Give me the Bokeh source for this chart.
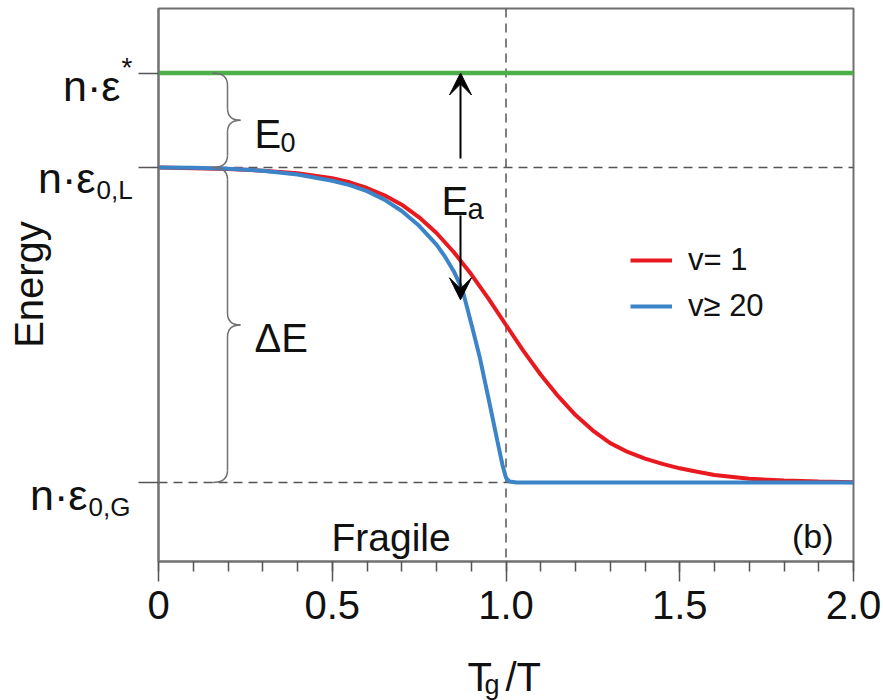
import numpy as np
from bokeh.plotting import figure
from bokeh.layouts import row, column
from bokeh.models import (Range1d, FixedTicker, Span, Label, Arrow, VeeHead,
                          Legend, LegendItem)
from bokeh.embed import file_html
from bokeh.resources import INLINE

# ---- data -------------------------------------------------------------
# energy levels (units of the glass-to-liquid gap)
level_star = 1.3      # n·ε*
level_liquid = 1.0    # n·ε0,L
level_glass = 0.0     # n·ε0,G
ea_low = 0.58         # lower end of the E_a arrow

# v = 1 curve
tgt_v1 = [0.0, 0.1, 0.2, 0.3, 0.4, 0.5, 0.55, 0.6, 0.65, 0.7, 0.75, 0.8,
          0.85, 0.9, 0.95, 1.0, 1.05, 1.1, 1.15, 1.2, 1.25, 1.3, 1.35, 1.4,
          1.45, 1.5, 1.55, 1.6, 1.7, 1.8, 1.9, 2.0]
energy_v1 = [1.0, 0.998, 0.995, 0.99, 0.982, 0.966, 0.953, 0.935, 0.912,
             0.882, 0.842, 0.792, 0.731, 0.661, 0.583, 0.50, 0.418, 0.342,
             0.274, 0.214, 0.165, 0.125, 0.097, 0.076, 0.059, 0.045, 0.034,
             0.024, 0.012, 0.006, 0.003, 0.001]

# v >= 20 curve
tgt_v20 = [0.0, 0.1, 0.2, 0.3, 0.4, 0.5, 0.55, 0.6, 0.65, 0.7, 0.75, 0.8,
           0.825, 0.85, 0.875, 0.9, 0.925, 0.95, 0.975, 0.99, 1.0, 1.01, 1.03,
           1.1, 1.5, 2.0]
energy_v20 = [1.0, 0.999, 0.996, 0.99, 0.978, 0.958, 0.944, 0.925, 0.898,
              0.862, 0.815, 0.755, 0.716, 0.670, 0.610, 0.505, 0.395, 0.265,
              0.133, 0.055, 0.015, 0.003, 0.0, 0.0, 0.0, 0.0]

x_ticks = [0.0, 0.5, 1.0, 1.5, 2.0]
x_tick_labels = ["0", "0.5", "1.0", "1.5", "2.0"]
series_labels = ["v= 1", "v≥ 20"]

# ---- styling ----------------------------------------------------------
INK = "#111111"
FRAME = "#707070"
RED = "#e8191f"
BLUE = "#3b84c8"
GREEN = "#4cb04a"
FONT = "Liberation Sans"

W, H = 883, 700
LEFT, RIGHT, TOP = 158, 30, 8
MAIN_H = 646                 # height of the row holding the chart
FRAME_BOTTOM = 561           # pixel row of the x axis
Y0, Y1 = -0.2508, 1.5048
SX = (W - LEFT - RIGHT) / 2.0                 # px per x unit
SY = (FRAME_BOTTOM - TOP) / (Y1 - Y0)         # px per y unit
TICK = 20                                     # outward major tick length


def xpx(px):
    """x position (data units) of a canvas pixel column."""
    return (px - LEFT) / SX


def ypx(py):
    """y position (data units) of a canvas pixel row."""
    return Y1 - (py - TOP) / SY


def bare(fig):
    fig.xgrid.visible = False
    fig.ygrid.visible = False
    fig.outline_line_color = None
    fig.background_fill_color = "white"
    fig.border_fill_color = "white"


def put(fig, text, x, y, size, align="left", baseline="alphabetic", angle=0.0):
    fig.add_layout(Label(x=x, y=y, text=text, text_font=FONT,
                         text_font_size=f"{size}px", text_color=INK,
                         text_align=align, text_baseline=baseline, angle=angle))


# ---- main chart -------------------------------------------------------
p = figure(width=W - LEFT + TICK, height=MAIN_H,
           x_range=Range1d(0, 2), y_range=Range1d(Y0, Y1),
           output_backend="svg", toolbar_location=None, title=None,
           min_border_left=TICK, min_border_right=RIGHT,
           min_border_top=TOP, min_border_bottom=MAIN_H - FRAME_BOTTOM)
bare(p)
p.outline_line_color = FRAME
p.outline_line_width = 2

# x axis
xa = p.xaxis[0]
xa.ticker = FixedTicker(ticks=x_ticks,
                        minor_ticks=list(np.round(np.arange(0, 2.01, 0.1), 2)))
xa.major_label_overrides = dict(zip(x_ticks, x_tick_labels))
xa.axis_line_color = FRAME
xa.axis_line_width = 2
xa.major_tick_line_color = "#555555"
xa.major_tick_line_width = 1.5
xa.minor_tick_line_color = "#555555"
xa.minor_tick_line_width = 1.5
xa.major_tick_in = 0
xa.major_tick_out = TICK
xa.minor_tick_in = 0
xa.minor_tick_out = 10
xa.major_label_text_font = FONT
xa.major_label_text_font_size = "40px"
xa.major_label_text_color = INK
xa.major_label_standoff = 9

# y axis: ticks only, the level names sit in the side strip
ya = p.yaxis[0]
ya.ticker = FixedTicker(ticks=[level_glass, level_liquid, level_star], minor_ticks=[])
ya.major_label_overrides = {level_glass: "", level_liquid: "", level_star: ""}
ya.major_label_standoff = 0
ya.axis_line_color = FRAME
ya.axis_line_width = 2
ya.major_tick_line_color = "#555555"
ya.major_tick_line_width = 1.5
ya.major_tick_in = 0
ya.major_tick_out = TICK

# dashed reference lines
for loc, dim in [(level_liquid, "width"), (level_glass, "width"), (1.0, "height")]:
    p.add_layout(Span(location=loc, dimension=dim, line_color="#555555",
                      line_width=1.5, line_dash="9 6", level="underlay"))

# curves
p.line([0, 2], [level_star, level_star], line_color=GREEN, line_width=4.5)
r_v1 = p.line(tgt_v1, energy_v1, line_color=RED, line_width=4)
r_v20 = p.line(tgt_v20, energy_v20, line_color=BLUE, line_width=4)


# curly braces
def brace(y_top, y_bot, x_end=xpx(212), x_stem=xpx(227), x_tip=xpx(240)):
    ym = (y_top + y_bot) / 2
    r = 12 / SY
    p.quadratic(x0=[x_end, x_stem, x_tip, x_stem],
                y0=[y_top, ym + r, ym, y_bot + r],
                x1=[x_stem, x_tip, x_stem, x_end],
                y1=[y_top - r, ym, ym - r, y_bot],
                cx=[x_stem] * 4, cy=[y_top, ym, ym, y_bot],
                line_color="#707070", line_width=1.5)
    p.segment(x0=[x_stem, x_stem], y0=[y_top - r, ym - r],
              x1=[x_stem, x_stem], y1=[ym + r, y_bot + r],
              line_color="#707070", line_width=1.5)


brace(level_star, level_liquid)
brace(level_liquid, level_glass)

# E_a double arrow, split around its label
xa_arrow = xpx(460)
for y_from, y_to in [(ypx(158), level_star), (ypx(215), ea_low)]:
    p.add_layout(Arrow(x_start=xa_arrow, y_start=y_from, x_end=xa_arrow, y_end=y_to,
                       start=None,
                       end=VeeHead(size=22, fill_color="black", line_color="black"),
                       line_color="black", line_width=2))

# gap labels
put(p, "E", xpx(254), ypx(133), 40)
put(p, "0", xpx(280), ypx(142), 27)
put(p, "ΔE", xpx(254), ypx(337), 40)
put(p, "E", xpx(441), ypx(200), 40)
put(p, "a", xpx(467), ypx(208), 29)

# panel texts
put(p, "Fragile", xpx(331), ypx(537), 39)
put(p, "(b)", xpx(833), ypx(535), 34, align="right")

legend = Legend(items=[LegendItem(label=series_labels[0], renderers=[r_v1]),
                       LegendItem(label=series_labels[1], renderers=[r_v20])],
                location=(472, 237), orientation="vertical")
legend.border_line_alpha = 0
legend.background_fill_alpha = 0
legend.label_text_font = FONT
legend.label_text_font_size = "31px"
legend.label_text_color = INK
legend.glyph_width = 42
legend.glyph_height = 20
legend.label_standoff = 16
legend.spacing = 10
legend.padding = 0
legend.margin = 0
p.add_layout(legend)

# ---- energy-axis names (left strip, same vertical scale) --------------
side = figure(width=LEFT - TICK, height=MAIN_H,
              x_range=Range1d(xpx(0), xpx(LEFT - TICK)), y_range=p.y_range,
              x_axis_type=None, y_axis_type=None,
              output_backend="svg", toolbar_location=None, title=None,
              min_border_left=0, min_border_right=0,
              min_border_top=TOP, min_border_bottom=MAIN_H - FRAME_BOTTOM)
bare(side)

put(side, "n·ε", xpx(120), level_star - 13 / SY, 43, align="right")
put(side, "*", xpx(121), level_star + 6 / SY, 28)
put(side, "n·ε", xpx(95), level_liquid - 10 / SY, 43, align="right")
put(side, "0,L", xpx(96), level_liquid - 22 / SY, 26)
put(side, "n·ε", xpx(87), level_glass - 12 / SY, 43, align="right")
put(side, "0,G", xpx(88), level_glass - 24 / SY, 26)
put(side, "Energy", xpx(28), ypx(284), 40, align="center", angle=np.pi / 2)

# ---- x-axis title (bottom strip, same horizontal scale) ---------------
foot = figure(width=W, height=H - MAIN_H,
              x_range=Range1d(xpx(0), xpx(W)), y_range=Range1d(H, MAIN_H),
              x_axis_type=None, y_axis_type=None,
              output_backend="svg", toolbar_location=None, title=None,
              min_border_left=0, min_border_right=0,
              min_border_top=0, min_border_bottom=0)
bare(foot)
put(foot, "T", xpx(467), 676, 40)
put(foot, "g", xpx(484), 684, 27)
put(foot, "/T", xpx(505), 676, 40)

layout = column(row(side, p, spacing=0), foot, spacing=0)
open("out.html", "w").write(file_html(layout, INLINE))
